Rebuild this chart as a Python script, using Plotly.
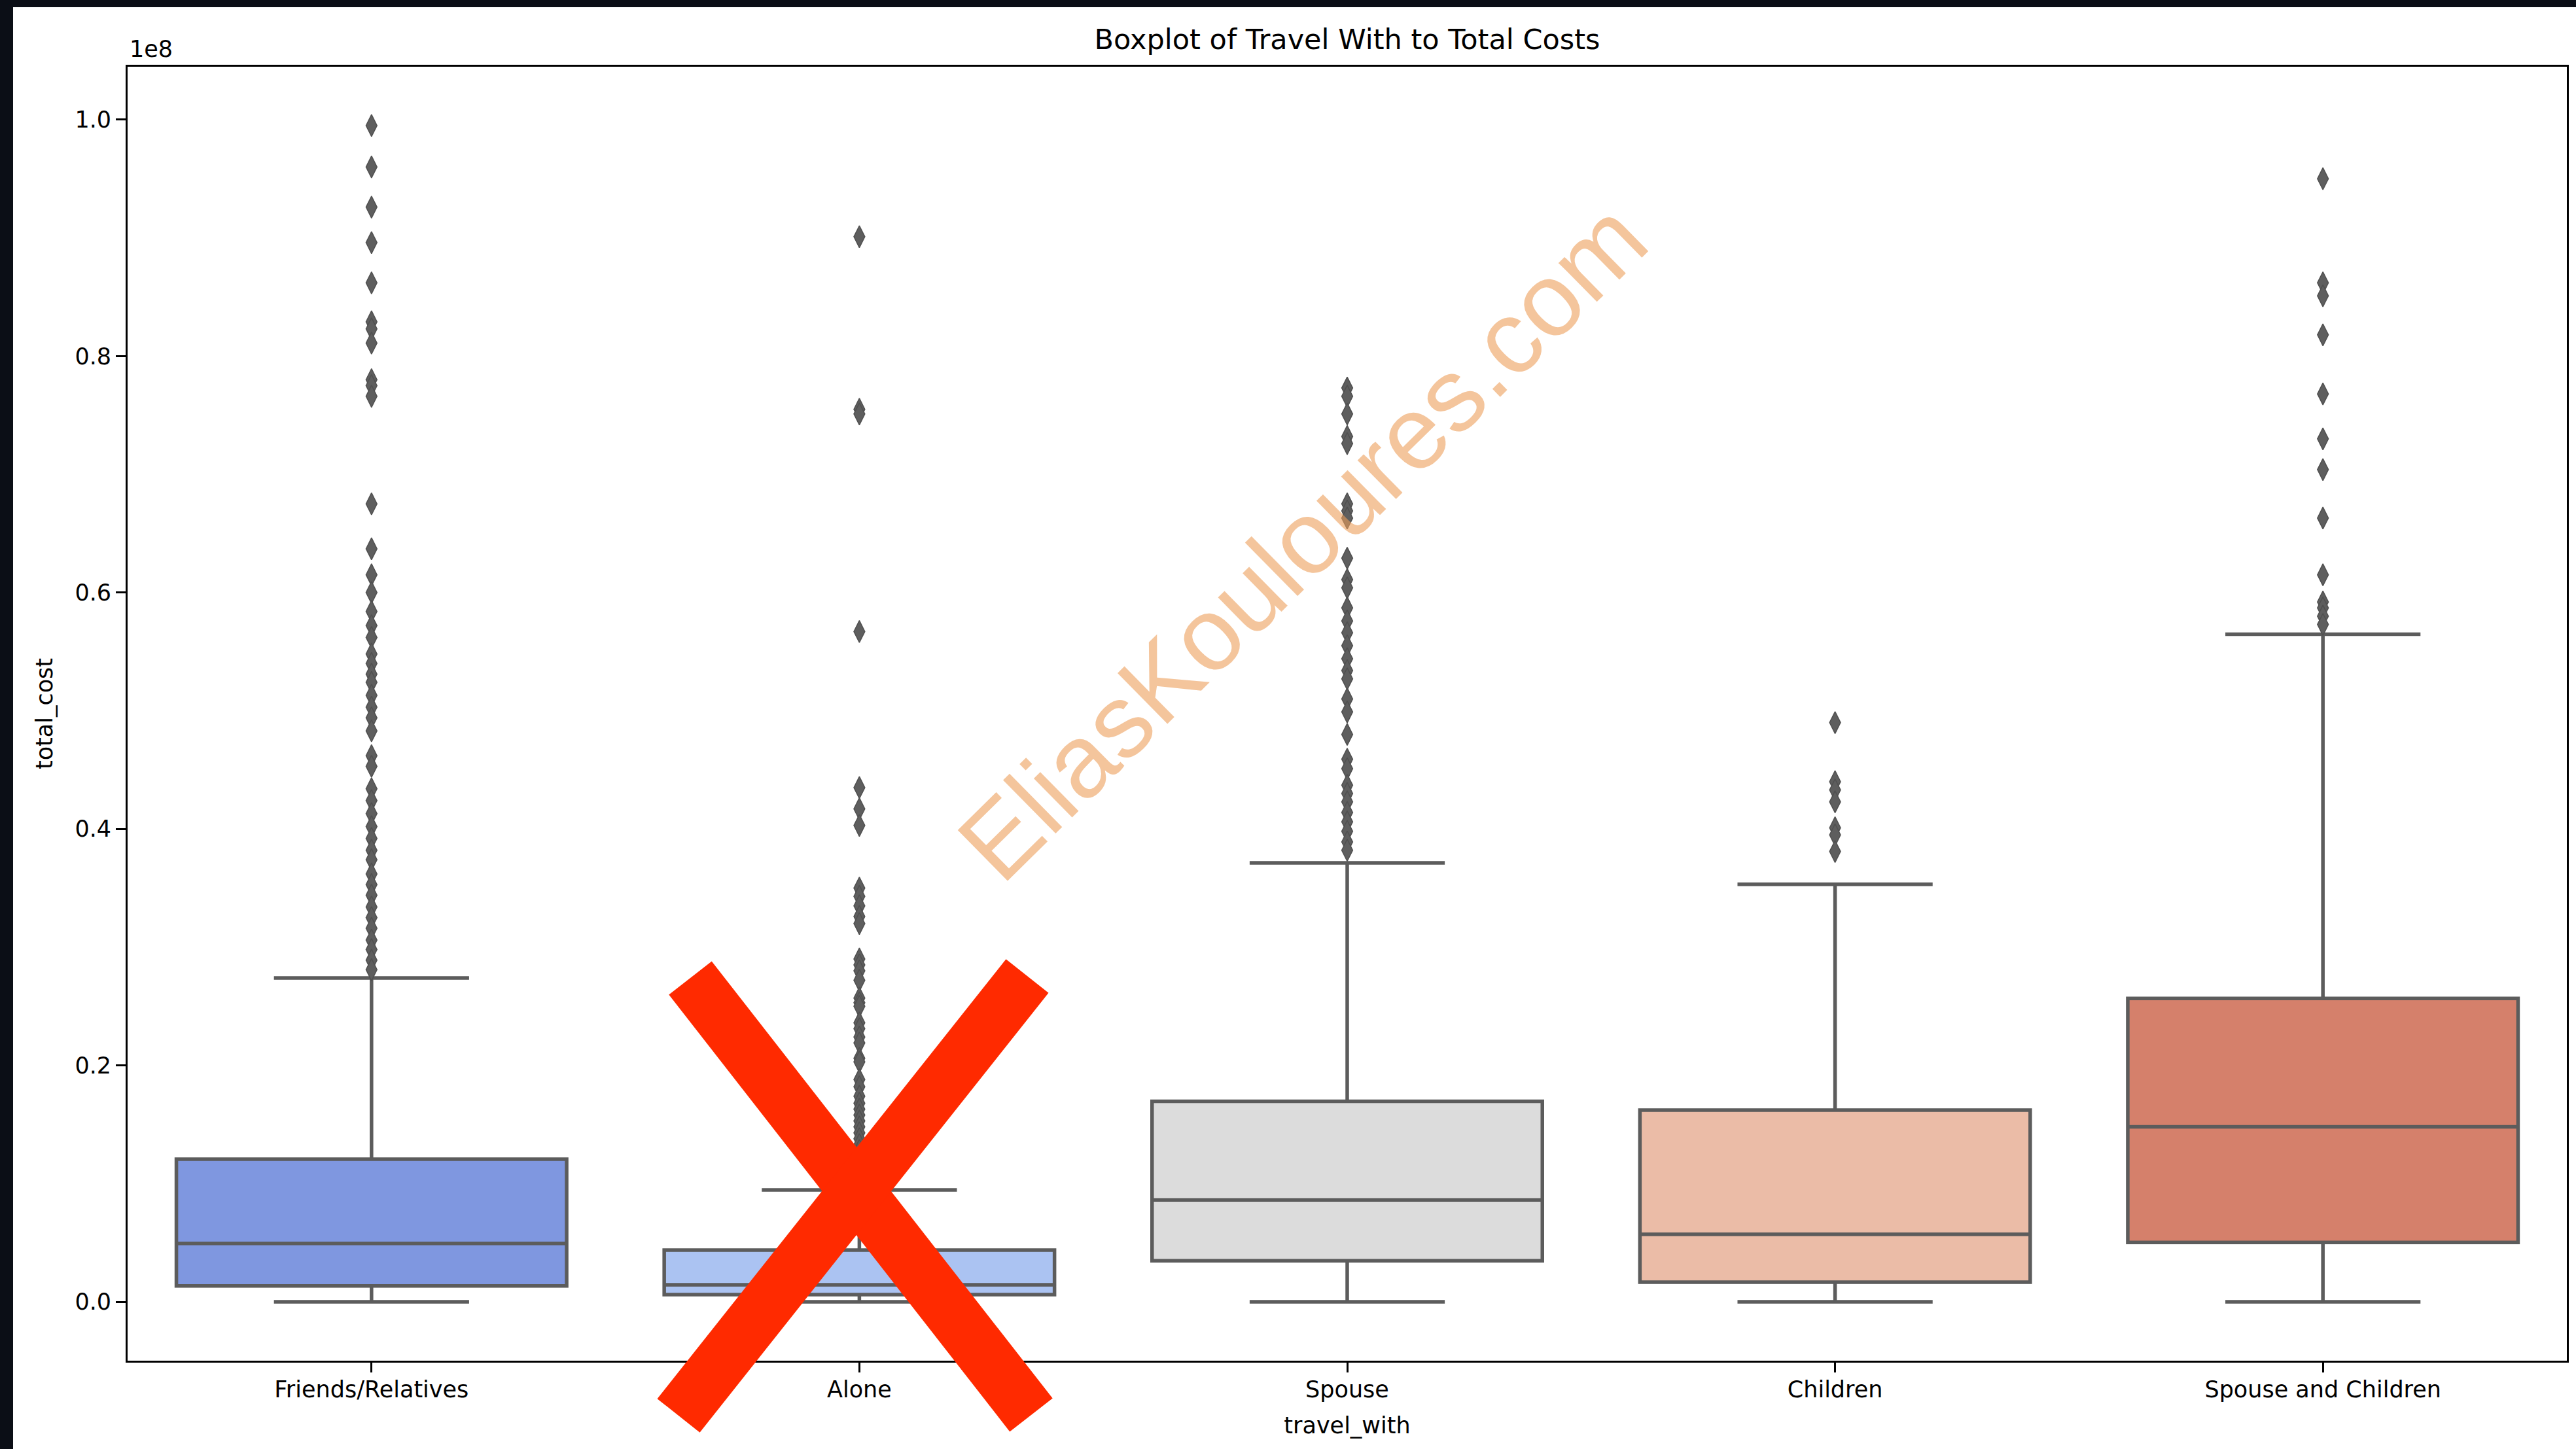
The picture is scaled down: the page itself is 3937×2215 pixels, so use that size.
import plotly.graph_objects as go

# ---- data (costs expressed in units of 1e8) ----
categories = ["Friends/Relatives", "Alone", "Spouse", "Children", "Spouse and Children"]
box_colors = ["#7f97e0", "#abc3f2", "#dcdcdc", "#ebbca7", "#d5806b"]

lower_whisker = [0.0, 0.0, 0.0, 0.0, 0.0]
q1 = [0.0135, 0.0061, 0.0348, 0.0166, 0.0503]
median = [0.0495, 0.0144, 0.0862, 0.0572, 0.1480]
q3 = [0.1207, 0.0437, 0.1697, 0.1622, 0.2566]
upper_whisker = [0.2740, 0.0947, 0.3713, 0.3532, 0.5647]

outliers_friends = [
    0.995, 0.960, 0.926, 0.896, 0.862, 0.829, 0.823, 0.811, 0.780, 0.775, 0.766,
    0.675, 0.637, 0.615, 0.600, 0.584, 0.572, 0.562, 0.548, 0.540, 0.531, 0.524,
    0.513, 0.503, 0.494, 0.483, 0.462, 0.453, 0.434, 0.424, 0.413, 0.402, 0.392,
    0.382, 0.374, 0.362, 0.353, 0.344, 0.334, 0.325, 0.316, 0.306, 0.298, 0.289,
    0.281,
]
outliers_alone = [
    0.901, 0.755, 0.751, 0.567, 0.435, 0.417, 0.403, 0.350, 0.343, 0.335, 0.326,
    0.320, 0.290, 0.285, 0.280, 0.272, 0.257, 0.253, 0.250, 0.236, 0.231, 0.224,
    0.219, 0.206, 0.203, 0.188, 0.182, 0.174, 0.168, 0.163, 0.158, 0.153, 0.148,
    0.143, 0.138, 0.133, 0.128, 0.120, 0.113, 0.106, 0.100,
]
outliers_spouse = [
    0.773, 0.766, 0.751, 0.732, 0.726, 0.675, 0.669, 0.663, 0.629, 0.611, 0.604,
    0.587, 0.576, 0.566, 0.555, 0.544, 0.534, 0.527, 0.510, 0.499, 0.480, 0.459,
    0.451, 0.437, 0.430, 0.423, 0.414, 0.406, 0.398, 0.389, 0.382,
]
outliers_children = [0.490, 0.440, 0.433, 0.423, 0.401, 0.395, 0.381]
outliers_spouse_children = [
    0.950, 0.862, 0.851, 0.818, 0.768, 0.730, 0.704, 0.663, 0.615, 0.592, 0.587,
    0.580, 0.573,
]
outliers = [outliers_friends, outliers_alone, outliers_spouse,
            outliers_children, outliers_spouse_children]

y_ticks = [0.0, 0.2, 0.4, 0.6, 0.8, 1.0]
y_tick_labels = ["0.0", "0.2", "0.4", "0.6", "0.8", "1.0"]

SCALE = 1e8

# ---- page geometry (px) ----
W, H = 3937, 2215
L, R, T, B = 195, 14, 102, 135
PW, PH = W - L - R, H - T - B

FONT = "DejaVu Sans"
LINE_GRAY = "#5c5c5c"


def px_x(px):
    return (px - L) / PW


def px_y(py):
    return (H - B - py) / PH


fig = go.Figure()

for i, cat in enumerate(categories):
    fig.add_trace(go.Box(
        x=[cat],
        q1=[q1[i] * SCALE],
        median=[median[i] * SCALE],
        q3=[q3[i] * SCALE],
        lowerfence=[lower_whisker[i] * SCALE],
        upperfence=[upper_whisker[i] * SCALE],
        fillcolor=box_colors[i],
        line=dict(color=LINE_GRAY, width=5.5),
        width=0.8,
        whiskerwidth=0.5,
        boxpoints=False,
        hoverinfo="skip",
        showlegend=False,
    ))

for i, cat in enumerate(categories):
    fig.add_trace(go.Scatter(
        x=[cat] * len(outliers[i]),
        y=[v * SCALE for v in outliers[i]],
        mode="markers",
        marker=dict(symbol="diamond-tall", size=24, color="#5e5e5e",
                    line=dict(color="#505050", width=1.5)),
        showlegend=False,
    ))

# y range with 5% padding around the data extent, as in the default autoscale
all_vals = [v for grp in outliers for v in grp] + lower_whisker
y_max = max(all_vals)
y_min = min(all_vals)
pad = 0.05 * (y_max - y_min)

axis_common = dict(
    showline=True, mirror=True, linecolor="black", linewidth=2.8,
    ticks="outside", ticklen=15, tickwidth=2.8, tickcolor="black",
    tickfont=dict(family=FONT, size=35, color="black"),
    showgrid=False, zeroline=False,
)

fig.update_layout(
    width=W, height=H,
    margin=dict(l=L, r=R, t=T, b=B, pad=0),
    paper_bgcolor="white", plot_bgcolor="white",
    boxmode="overlay",
    font=dict(family=FONT, color="black"),
    title=dict(
        text="Boxplot of Travel With to Total Costs",
        font=dict(family=FONT, size=43, color="black"),
        x=(L + PW / 2) / W, xanchor="center",
        y=1 - 60 / H, yanchor="middle", yref="container",
    ),
    xaxis=dict(
        type="category", categoryorder="array", categoryarray=categories,
        range=[-0.5, len(categories) - 0.5],
        ticklabelstandoff=-4,
        title=dict(text="travel_with", font=dict(family=FONT, size=35, color="black"),
                   standoff=24),
        **axis_common,
    ),
    yaxis=dict(
        range=[(y_min - pad) * SCALE, (y_max + pad) * SCALE],
        tickvals=[t * SCALE for t in y_ticks],
        ticktext=y_tick_labels,
        title=dict(text="total_cost", font=dict(family=FONT, size=35, color="black"),
                   standoff=24),
        **axis_common,
    ),
)

# offset multiplier shown above the y axis
fig.add_annotation(
    text="1e8", xref="paper", yref="paper",
    x=px_x(196), y=px_y(75), xanchor="left", yanchor="middle",
    showarrow=False, font=dict(family=FONT, size=35, color="black"),
)

# watermark
fig.add_annotation(
    text="EliasKouloures.com", xref="paper", yref="paper",
    x=px_x(1990), y=px_y(827), xanchor="center", yanchor="middle",
    textangle=-44.5, showarrow=False,
    font=dict(family="Liberation Sans", size=158, color="rgba(237,158,90,0.6)"),
)

# red cross over the "Alone" group
cross = [((1055, 1495), (1576, 2163)), ((1570, 1492), (1037, 2164))]
for (xa, ya), (xb, yb) in cross:
    fig.add_shape(
        type="line", xref="paper", yref="paper",
        x0=px_x(xa), y0=px_y(ya), x1=px_x(xb), y1=px_y(yb),
        line=dict(color="#ff2a00", width=83), layer="above",
    )

# dark frame strips along the top and left page edges
fig.add_shape(type="rect", xref="paper", yref="paper",
              x0=px_x(0), x1=px_x(W), y0=px_y(11), y1=px_y(0),
              line=dict(width=0), fillcolor="#0b0e16", layer="above")
fig.add_shape(type="rect", xref="paper", yref="paper",
              x0=px_x(0), x1=px_x(20), y0=px_y(H), y1=px_y(0),
              line=dict(width=0), fillcolor="#0b0e16", layer="above")

fig.write_html("out.html")
